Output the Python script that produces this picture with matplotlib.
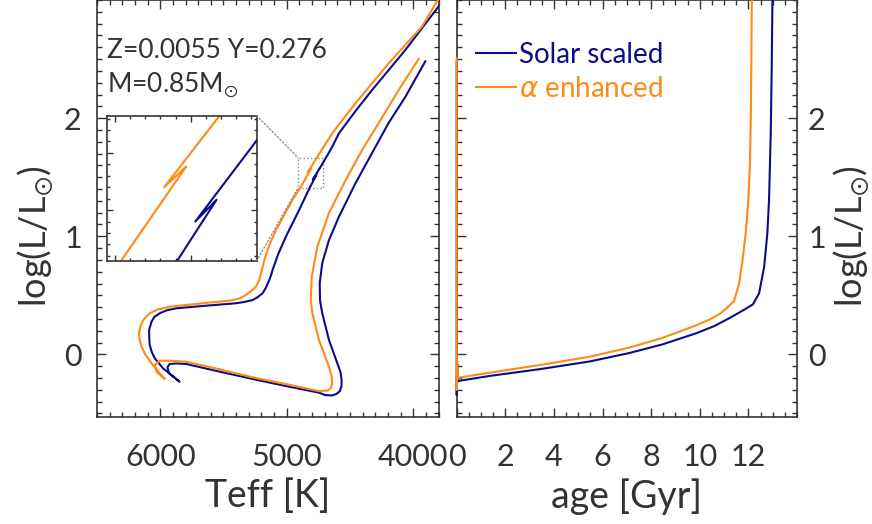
"""Evolutionary tracks: HR diagram and luminosity vs age, solar scaled vs alpha enhanced."""
import matplotlib.pyplot as plt
from matplotlib.patches import Rectangle, ConnectionPatch
from matplotlib.ticker import MultipleLocator, FixedLocator, NullFormatter

plt.rcParams["font.family"] = ["Lato", "DejaVu Sans"]
plt.rcParams["mathtext.fontset"] = "dejavusans"

BLUE = "#0c0c8a"
ORANGE = "#ff8a14"
TXT = "#333333"

# HR track, solar scaled (pre-MS -> ZAMS -> MS -> SGB -> RGB)
teff_ss = [3905, 4062, 4194, 4325, 4456, 4587, 4666, 4719, 4739, 4737, 4719, 4666,
           4600, 4575, 4566, 4567, 4579, 4607, 4642, 4697, 4745,
           5007, 5270, 5532, 5794, 5870, 5925, 5943, 5931, 5847,
           5886, 5978, 6043, 6067, 6083, 6087, 6088, 6069, 6047, 6004, 5949, 5873,
           5663, 5400, 5335, 5270, 5233, 5191, 5166, 5138, 5126, 5112, 5067, 5007,
           4902, 4818, 4766, 4794, 4714, 4640, 4587, 4456, 4325, 4062, 3821, 3745]
logl_ss = [2.48, 2.18, 1.96, 1.705, 1.45, 1.166, 0.968, 0.774, 0.604, 0.46, 0.348, 0.122,
           -0.075, -0.149, -0.217, -0.267, -0.31, -0.335, -0.348, -0.344, -0.324,
           -0.268, -0.208, -0.146, -0.081, -0.077, -0.081, -0.109, -0.16, -0.231,
           -0.197, -0.118, -0.033, 0.02, 0.08, 0.139, 0.207, 0.277, 0.317, 0.348, 0.373, 0.39,
           0.41, 0.433, 0.444, 0.46, 0.482, 0.517, 0.562, 0.63, 0.664, 0.714, 0.85, 0.996,
           1.222, 1.411, 1.518, 1.48, 1.62, 1.758, 1.872, 2.06, 2.238, 2.577, 2.915, 3.025]

# HR track, alpha enhanced
teff_ae = [3957, 4115, 4272, 4404, 4534, 4666, 4758, 4802, 4810, 4797, 4745, 4666,
           4646, 4640, 4650, 4679, 4745,
           5007, 5270, 5532, 5794, 5910, 6004, 6043, 6030, 5965,
           6004, 6069, 6118, 6148, 6163, 6167, 6160, 6148, 6122, 6083, 6020, 5925, 5799,
           5663, 5453, 5374, 5322, 5280, 5243, 5229, 5217, 5177, 5138, 5085, 4955,
           4892, 4806, 4835, 4762, 4640, 4456, 4194, 3931, 3813, 3776]
logl_ae = [2.50, 2.238, 1.959, 1.73, 1.476, 1.197, 0.912, 0.658, 0.46, 0.348, 0.122, -0.104,
           -0.183, -0.245, -0.284, -0.306, -0.311,
           -0.251, -0.194, -0.126, -0.062, -0.054, -0.053, -0.09, -0.146, -0.208,
           -0.16, -0.075, -0.001, 0.065, 0.122, 0.179, 0.223, 0.263, 0.308, 0.348, 0.38, 0.404, 0.418,
           0.433, 0.455, 0.473, 0.503, 0.537, 0.573, 0.604, 0.63, 0.799, 0.926, 1.053, 1.307,
           1.411, 1.576, 1.54, 1.665, 1.872, 2.126, 2.464, 2.774, 2.986, 3.04]

# luminosity vs age [Gyr]
age_ss = [0.0, 0.0, 0.0, 0.01, 0.02, 0.03, 0.04, 0.066, 1.37, 3.42, 5.47, 7.11, 8.47,
          9.84, 10.6, 11.21, 11.8, 12.19, 12.44, 12.65, 12.78, 12.85, 12.92, 12.96, 12.99, 13.0]
agel_ss = [2.48, 0.5, -0.344, -0.2, -0.081, -0.16, -0.231, -0.225, -0.182, -0.125, -0.06, 0.012, 0.085,
           0.178, 0.24, 0.306, 0.375, 0.424, 0.517, 0.742, 1.025, 1.307, 1.872, 2.435, 3.0, 3.05]
age_ae = [0.0, 0.0, 0.0, 0.01, 0.02, 0.03, 0.04, 0.066, 1.37, 3.42, 5.47, 7.11, 8.47,
          9.84, 10.4, 10.8, 11.1, 11.41, 11.62, 11.76, 11.89, 12.0, 12.06, 12.10, 12.12, 12.14, 12.15]
agel_ae = [2.506, 1.0, -0.301, -0.15, -0.053, -0.146, -0.208, -0.197, -0.155, -0.09, -0.02, 0.058, 0.14,
           0.245, 0.295, 0.34, 0.39, 0.452, 0.602, 0.799, 1.025, 1.307, 1.589, 2.012, 2.435, 3.0, 3.05]

TEFF_LIM = (6500, 3800)
LOGL_LIM = (-0.53, 3.0)
AGE_LIM = (0, 14)
ZOOM_TEFF = (4910, 4713)
ZOOM_LOGL = (1.411, 1.665)

YLABEL = r"log(L/$\mathregular{L_{\odot}}$)"

W, H = 872, 524
fig = plt.figure(figsize=(W / 100, H / 100), dpi=100)


def box(x0, x1, y0, y1):
    return [x0 / W, 1 - y1 / H, (x1 - x0) / W, (y1 - y0) / H]


def style_axes(ax, major=6.5, minor=3.4):
    ax.tick_params(which="both", direction="in", top=True, right=True, colors=TXT,
                   width=1.0, labelsize=22, labelcolor=TXT)
    ax.tick_params(which="major", length=major)
    ax.tick_params(which="minor", length=minor)
    for sp in ax.spines.values():
        sp.set_linewidth(1.2)
        sp.set_color(TXT)


ax1 = fig.add_axes(box(97, 438.5, 0, 417))
ax2 = fig.add_axes(box(456.7, 797, 0, 417))

# --- HR diagram
ax1.plot(teff_ss, logl_ss, color=BLUE, lw=1.5, zorder=3)
ax1.plot(teff_ae, logl_ae, color=ORANGE, lw=1.5, zorder=3)
ax1.set_xlim(*TEFF_LIM)
ax1.set_ylim(*LOGL_LIM)
ax1.xaxis.set_major_locator(FixedLocator([6000, 5000, 4000]))
ax1.xaxis.set_minor_locator(MultipleLocator(100))
ax1.yaxis.set_major_locator(FixedLocator([0, 1, 2]))
ax1.yaxis.set_minor_locator(MultipleLocator(0.1))
style_axes(ax1)
ax1.tick_params(axis="x", pad=19)
ax1.tick_params(axis="y", pad=11)
ax1.set_xlabel("Teff [K]", fontsize=27, color=TXT)
ax1.set_ylabel(YLABEL, fontsize=26, color=TXT)
ax1.xaxis.set_label_coords(0.5, -0.19)
ax1.yaxis.set_label_coords(-0.18, 0.434)
ax1.xaxis.label.set_va("center")
ax1.yaxis.label.set_va("center")
ax1.text(0.03, 0.880, "Z=0.0055 Y=0.276", transform=ax1.transAxes,
         fontsize=19, color=TXT, va="center")
ax1.text(0.03, 0.796, r"M=0.85$\mathregular{M_{\odot}}$", transform=ax1.transAxes,
         fontsize=19, color=TXT, va="center")

# zoom box on the RGB bump
ax1.add_patch(Rectangle((ZOOM_TEFF[0], ZOOM_LOGL[0]), ZOOM_TEFF[1] - ZOOM_TEFF[0],
                        ZOOM_LOGL[1] - ZOOM_LOGL[0], fill=False, ec="#8a8a8a",
                        ls=":", lw=1.0, zorder=2))

axin = fig.add_axes(box(107.3, 256.7, 115.7, 261))
axin.plot(teff_ss, logl_ss, color=BLUE, lw=1.5)
axin.plot(teff_ae, logl_ae, color=ORANGE, lw=1.5)
axin.set_xlim(*ZOOM_TEFF)
axin.set_ylim(*ZOOM_LOGL)
axin.xaxis.set_major_locator(MultipleLocator(100))
axin.xaxis.set_minor_locator(MultipleLocator(20))
axin.yaxis.set_major_locator(MultipleLocator(0.1))
axin.yaxis.set_minor_locator(MultipleLocator(0.02))
style_axes(axin, major=4.5, minor=2.2)
axin.xaxis.set_major_formatter(NullFormatter())
axin.yaxis.set_major_formatter(NullFormatter())
axin.set_facecolor("white")

for ya, yb in [(1, ZOOM_LOGL[1]), (0, ZOOM_LOGL[0])]:
    con = ConnectionPatch(xyA=(1, ya), coordsA=axin.transAxes,
                          xyB=(ZOOM_TEFF[0], yb), coordsB=ax1.transData,
                          color="#8a8a8a", ls=":", lw=1.0)
    fig.add_artist(con)

# --- luminosity vs age
ax2.plot(age_ss, agel_ss, color=BLUE, lw=1.5, zorder=3, clip_on=False, label="Solar scaled")
ax2.plot(age_ae, agel_ae, color=ORANGE, lw=1.5, zorder=3, clip_on=False,
         label=r"$\alpha$ enhanced")
ax2.set_xlim(*AGE_LIM)
ax2.set_ylim(*LOGL_LIM)
ax2.xaxis.set_major_locator(FixedLocator([0, 2, 4, 6, 8, 10, 12]))
ax2.xaxis.set_minor_locator(MultipleLocator(0.5))
ax2.yaxis.set_major_locator(FixedLocator([0, 1, 2]))
ax2.yaxis.set_minor_locator(MultipleLocator(0.1))
style_axes(ax2)
ax2.tick_params(axis="x", pad=19)
ax2.tick_params(axis="y", pad=8, labelleft=False, labelright=True)
ax2.set_xlabel("age [Gyr]", fontsize=27, color=TXT)
ax2.set_ylabel(YLABEL, fontsize=26, color=TXT)
ax2.yaxis.set_label_position("right")
ax2.xaxis.set_label_coords(0.5, -0.19)
ax2.yaxis.set_label_coords(1.16, 0.434)
ax2.xaxis.label.set_va("center")
ax2.yaxis.label.set_va("center")
leg = ax2.legend(loc="upper left", bbox_to_anchor=(-0.018, 0.96), frameon=False,
                 fontsize=20, handlelength=1.45, handletextpad=0.1, labelspacing=0.3)
for txt, line in zip(leg.get_texts(), leg.get_lines()):
    txt.set_color(line.get_color())

fig.savefig("out.png", dpi=100)
